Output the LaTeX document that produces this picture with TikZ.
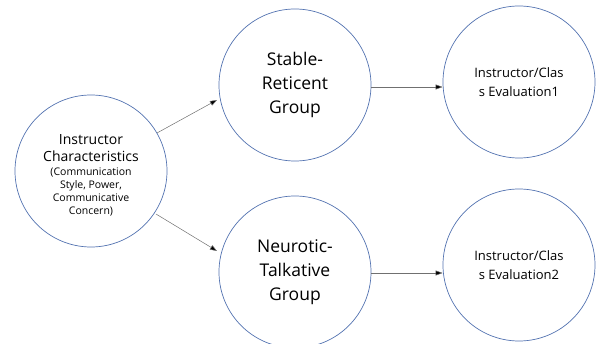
\documentclass[tikz,border=0pt]{standalone}
\usepackage{fontspec}
\setmainfont{Open Sans}
\usetikzlibrary{arrows.meta}
\definecolor{circ}{HTML}{5272B0}
\definecolor{arr}{HTML}{707070}
\newcommand{\bigf}{\fontsize{14}{17}\selectfont}
\newcommand{\smf}{\fontsize{10.5}{12.5}\selectfont}
\begin{document}
\begin{tikzpicture}[x=1pt,y=-1pt,
  bubble/.style={circle,draw=circ,line width=0.7pt,minimum size=152pt,inner sep=0pt,align=center},
  link/.style={draw=arr,line width=0.5pt,-{Triangle[length=7pt,width=5pt,fill=black]}}]
\useasboundingbox (0,0) rectangle (598,344);
\node[bubble] (ic) at (91,171) {};
\node[align=center,inner sep=0pt,font=\bigf] (ict) at (91,175) {Instructor\\Characteristics\\[-3pt]
  \smf (Communication\\[-4pt]\smf Style, Power,\\[-4pt]\smf Communicative\\[-4pt]\smf Concern)};
\node[bubble,font=\fontsize{17.5}{24}\selectfont] (sr) at (295,85) {Stable-\\Reticent\\Group};
\node[bubble,font=\fontsize{17.5}{24}\selectfont] (nt) at (295,272) {Neurotic-\\Talkative\\Group};
\node[bubble,font=\fontsize{13}{19}\selectfont] (e1) at (519,82) {Instructor/Clas\\s Evaluation1};
\node[bubble,font=\fontsize{13}{19}\selectfont] (e2) at (519,265) {Instructor/Clas\\s Evaluation2};
\coordinate (a1s) at (157,133);
\coordinate (a1e) at (217,100);
\coordinate (a2s) at (156,214);
\coordinate (a2e) at (217,251);
\draw[link] (a1s) -- (a1e);
\draw[link] (a2s) -- (a2e);
\draw[link] (sr.east |- 0,87) -- (e1.west |- 0,87);
\draw[link] (nt.east |- 0,273) -- (e2.west |- 0,273);
\end{tikzpicture}
\end{document}
